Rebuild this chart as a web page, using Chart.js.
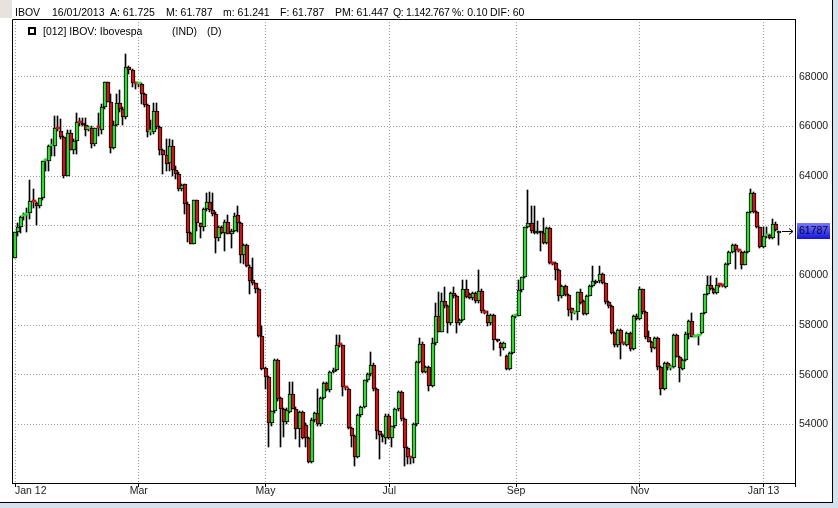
<!DOCTYPE html>
<html>
<head>
<meta charset="utf-8">
<script src="https://cdn.jsdelivr.net/npm/chart.js@4.4.1/dist/chart.umd.min.js"></script>
<style>
  html, body { margin: 0; padding: 0; }
  body { width: 838px; height: 508px; background: #d5e1ed; position: relative; overflow: hidden;
         font-family: "Liberation Sans", Arial, sans-serif; }
  #frame { position: absolute; left: 0; top: 0; width: 832px; height: 502px; background: #fff;
           border-right: 1px solid #000; border-bottom: 1px solid #000; }
  #corner { position: absolute; left: 0; top: 0; width: 12px; height: 18px; background: #e6e2de; }
  canvas { position: absolute; left: 0; top: 0; }
  .t { position: absolute; font-size: 10.5px; line-height: 12px; white-space: pre; color: #000; }
  #box { position: absolute; left: 28px; top: 27px; width: 8px; height: 8px; box-sizing: border-box;
         border: 2px solid #000; background: #fff; }
</style>
</head>
<body>
<div id="frame"></div>
<div id="corner"></div>
<canvas id="chart" width="838" height="508"></canvas>

<div class="t" style="left:15px;top:6px">IBOV</div>
<div class="t" style="left:52px;top:6px">16/01/2013</div>
<div class="t" style="left:110px;top:6px">A: 61.725</div>
<div class="t" style="left:166px;top:6px">M: 61.787</div>
<div class="t" style="left:223px;top:6px">m: 61.241</div>
<div class="t" style="left:280px;top:6px">F: 61.787</div>
<div class="t" style="left:335px;top:6px">PM: 61.447</div>
<div class="t" style="left:393px;top:6px;letter-spacing:-0.35px">Q: 1.142.767</div>
<div class="t" style="left:452px;top:6px">%: 0.10</div>
<div class="t" style="left:490px;top:6px">DIF: 60</div>

<div id="box"></div>
<div class="t" style="left:43px;top:25px">[012] IBOV: Ibovespa</div>
<div class="t" style="left:172px;top:25px">(IND)</div>
<div class="t" style="left:207px;top:25px">(D)</div>

<script>
// daily candles
const opens = [
  60690, 61730, 61960, 62400, 62420, 62500, 62990, 62930, 62780, 63100,
  64600, 64590, 65220, 65220, 65930, 65830, 65560, 64010, 65720, 65070,
  65400, 66170, 66150, 66070, 65900, 65930, 65290, 65990, 65850, 66790, 67800,
  66970, 65130, 66070, 66930, 66700, 66400, 68400, 68270, 67730, 67700,
  67730, 67300, 66860, 65780, 65780, 66630, 65980, 65040, 64840, 64510, 65210, 64260,
  64100, 63500, 63670, 62890, 61710, 61280, 63030, 62090, 61930, 62690,
  62960, 62620, 62490, 61520, 61950, 61720, 62150, 61680, 61790, 62420,
  62110, 60830, 61220, 60340, 59830, 59690, 59450, 57570, 56270, 55910,
  54050, 54520, 56600, 55040, 54600, 54100, 54500, 55220, 54630, 53810,
  54500, 53990, 53450, 52470, 54190, 54460, 54010, 55060, 55670, 55380,
  56120, 56190, 57210, 57180, 55500, 55420, 53840, 53520, 52700, 54380,
  54710, 55790, 56030, 56390, 55410, 53730, 53570, 53440, 54340, 53440,
  53930, 54600, 55320, 54200, 53040, 52670, 52650, 54010, 56520, 57240,
  56120, 56310, 55540, 57260, 58380, 57730, 58950, 58750, 58080, 59290,
  59160, 58080, 58190, 59450, 59260, 59090, 59300, 58950, 59360, 58550,
  58420, 58080, 58420, 57410, 57280, 57080, 56770, 56230, 56870, 58350,
  58380, 59420, 59930, 61930, 62110, 61770, 61700, 61760, 61700, 61300,
  61910, 60500, 60500, 60230, 59160, 59560, 59220, 58690, 58480, 58510,
  59320, 58950, 58460, 59180, 59580, 59760, 59760, 60070, 59690, 58910,
  58750, 57680, 57180, 57800, 57270, 57200, 57670, 57040, 58380, 58230,
  59440, 58510, 57510, 57330, 57090, 57470, 56300, 55410, 56460, 56260,
  56300, 57600, 56730, 56220, 56590, 57650, 58180, 57530, 57560, 57670,
  58470, 59240, 59610, 59440, 59300, 59610, 59600, 59550, 60460, 60950,
  61220, 61020, 60950, 60420, 60950, 62540, 63300, 62540, 61930, 61130,
  61580, 61630, 61490, 62070, 61725
];
const highs = [
  61750, 62130, 62400, 62500, 62710, 63840, 63500, 62950, 63120, 64620,
  64700, 65240, 65490, 66430, 66430, 66290, 65600, 65850, 65850, 65490,
  66560, 66360, 66360, 66360, 66000, 66000, 65950, 66560, 66900, 67800, 67810,
  67300, 66200, 67300, 67460, 66800, 68910, 68450, 68300, 67800, 67750,
  67750, 67350, 66900, 66250, 66930, 66930, 66000, 65100, 65500, 65500, 65450, 64400,
  64150, 63700, 63700, 62950, 61750, 63050, 63050, 62100, 62700, 63300,
  63350, 63300, 62550, 62000, 62000, 62250, 62450, 61850, 62500, 62790,
  62150, 61250, 61250, 60400, 60720, 59700, 59500, 57950, 56300, 55950,
  54530, 56650, 56650, 55100, 54650, 54650, 55700, 55700, 54700, 54550,
  54550, 54050, 53500, 54250, 54500, 55420, 55100, 55700, 55700, 56150,
  56250, 57600, 57600, 57200, 55550, 55450, 53900, 53550, 54400, 54750,
  55800, 56050, 56930, 56450, 55450, 53750, 53600, 54400, 54400, 53950,
  54650, 55350, 55350, 54250, 53100, 52700, 54050, 56550, 57470, 57300,
  56350, 56350, 57470, 58870, 59320, 59270, 59540, 58800, 59350, 59540,
  59200, 58250, 59820, 59820, 59300, 59350, 59350, 60230, 59450, 58600,
  58550, 58450, 58450, 57450, 57300, 57300, 56800, 56900, 58400, 58400,
  59830, 59950, 61950, 63450, 62780, 62780, 62200, 61800, 62330, 61950,
  61950, 60550, 60550, 60250, 59600, 59600, 59250, 58700, 58550, 59350,
  59450, 59000, 59200, 59600, 60390, 59800, 60390, 60100, 59700, 58950,
  58800, 57700, 57850, 57850, 57300, 57700, 57700, 58400, 58450, 59540,
  59450, 58550, 57760, 57350, 57500, 57500, 56350, 56500, 56500, 56400,
  57650, 57650, 56750, 56650, 57700, 58200, 58500, 57600, 57600, 58500,
  59250, 59960, 59960, 59500, 59900, 59650, 59620, 60500, 61000, 61250,
  61250, 61050, 61000, 61000, 62550, 63460, 63350, 62600, 61950, 61930,
  61960, 61650, 62270, 62170, 61787
];
const lows = [
  60690, 61600, 61700, 62250, 61730, 62270, 62700, 62030, 62700, 63050,
  64210, 64210, 64820, 64820, 65800, 65500, 63920, 64010, 65070, 64890,
  64890, 66000, 66000, 65620, 65800, 65120, 65200, 65620, 65700, 66700, 66970,
  64950, 65100, 66000, 66600, 66070, 66300, 68100, 67570, 67500, 67600,
  66900, 66800, 65580, 65650, 65700, 65900, 64840, 64100, 64200, 64200, 64000, 63900,
  63400, 63400, 62490, 61350, 61280, 61280, 61800, 61520, 61800, 62600,
  62550, 62400, 60900, 61400, 61650, 61000, 61650, 61100, 61750, 61750,
  60500, 60450, 60340, 59240, 59600, 59300, 57500, 56200, 55430, 53090,
  53920, 54450, 54950, 53100, 53500, 54000, 54450, 54600, 53400, 53100,
  53400, 53100, 52450, 52450, 54100, 53950, 53950, 55000, 55350, 55300,
  56050, 56150, 57100, 55130, 55400, 53800, 53100, 52300, 52650, 54300,
  54650, 55700, 55950, 55350, 53400, 52600, 53300, 53200, 53400, 53100,
  53850, 54550, 54150, 52300, 52400, 52400, 52450, 53950, 56450, 56050,
  56050, 55330, 55500, 57200, 57700, 57700, 58700, 57680, 58000, 59100,
  57680, 58000, 58150, 59100, 59050, 59000, 58900, 58900, 58500, 58450,
  57950, 58000, 57000, 57300, 56740, 57000, 56200, 56200, 56850, 58300,
  58350, 59350, 59900, 61900, 61700, 61650, 61650, 61000, 61250, 61250,
  60450, 60400, 59830, 58950, 59100, 59150, 58350, 58220, 58450, 58220,
  58850, 58400, 58400, 59150, 59550, 59650, 59700, 59650, 58850, 58700,
  57650, 57100, 57100, 56620, 57200, 57150, 56950, 57000, 58200, 58200,
  58450, 57450, 57300, 56900, 57050, 56190, 55180, 55380, 56200, 56200,
  56250, 56700, 55720, 56200, 56550, 57450, 57500, 57500, 57200, 57650,
  58450, 59200, 59400, 59250, 59250, 59550, 59550, 59500, 60400, 60900,
  60240, 60950, 60270, 60400, 60900, 62500, 62500, 61900, 61100, 61100,
  61500, 61450, 61450, 61800, 61241
];
const closes = [
  61730, 61930, 62340, 62420, 62440, 62980, 62970, 62780, 63100, 64590,
  64620, 65220, 65250, 65930, 65900, 65560, 64010, 65720, 65070, 65400,
  66160, 66150, 66070, 65850, 65930, 65290, 65930, 65940, 66790, 67800, 66970,
  65130, 66070, 66930, 66700, 66400, 68400, 68270, 67770, 67710, 67720,
  67300, 66860, 65780, 65820, 66630, 65980, 65040, 64840, 64480, 65210, 64260, 64100,
  63500, 63630, 62890, 61710, 61280, 63030, 62090, 61930, 62690, 62960,
  62620, 62490, 61520, 61950, 61720, 62150, 61680, 61790, 62400, 62110,
  60830, 61220, 60360, 59790, 59690, 59450, 57570, 56230, 55910, 54050,
  54520, 56600, 55030, 54600, 54100, 54590, 55220, 54630, 53810, 54500,
  53450, 53450, 52470, 54190, 54460, 54010, 55060, 55670, 55400, 56120,
  56190, 57200, 57180, 55500, 55470, 53840, 53520, 52700, 54380, 54710,
  55790, 56030, 56390, 55410, 53730, 53570, 53500, 54340, 53440, 53930,
  54600, 55320, 54200, 53040, 52670, 52650, 54010, 56520, 57240, 56120,
  56310, 55540, 57260, 58360, 57730, 58950, 58750, 58080, 59290, 59160,
  58080, 58190, 59450, 59130, 59090, 59300, 58950, 59360, 58550, 58500,
  58080, 58420, 57410, 57350, 57080, 57280, 56230, 56870, 58350, 58380,
  59420, 59930, 61930, 62110, 61770, 61700, 61760, 61700, 61300, 61910,
  60500, 60470, 60230, 59160, 59560, 59220, 58620, 58480, 58510, 59320,
  58890, 58460, 59180, 59580, 59760, 59700, 60070, 59690, 58910, 58750,
  57680, 57180, 57800, 57260, 57240, 57670, 57040, 58380, 58230, 59440,
  58510, 57510, 57330, 57090, 57470, 56300, 55410, 56460, 56260, 56300,
  57600, 56730, 56260, 56590, 57650, 58180, 57530, 57560, 57580, 58470,
  59240, 59610, 59440, 59300, 59610, 59600, 59580, 60460, 60950, 61220,
  61020, 61000, 60420, 60950, 62540, 63300, 62540, 61960, 61130, 61580,
  61630, 61490, 62070, 61830, 61787
];

// x axis: candle index of each month label
const monthTickIdx = [0, 40, 81, 121, 162, 202, 242];
const monthLabels = ['Jan 12', 'Mar', 'May', 'Jul', 'Sep', 'Nov', 'Jan 13'];
const priceTicks = [54000, 56000, 58000, 60000, 62000, 64000, 66000, 68000];

const upColor = '#33d633';
const downColor = '#c41818';
const gridColor = '#9a9a9a';
const labelFont = { family: '"Liberation Sans", Arial, sans-serif', size: 10.5 };

const lastClose = closes[closes.length - 1];

const bodies = closes.map((c, i) => ({ x: i, y: [opens[i], c] }));
const wicks = closes.map((c, i) => ({ x: i, y: [lows[i], highs[i]] }));

// snap candles to whole pixels so the outlines stay crisp
const snapPlugin = {
    id: 'snap',
    beforeDatasetsDraw(chart) {
        const wickEls = chart.getDatasetMeta(0).data;
        const bodyEls = chart.getDatasetMeta(1).data;
        bodyEls.forEach((el, i) => {
            const cx = Math.round(el.x);
            el.x = cx;
            el.y = Math.round(el.y);
            el.base = Math.round(el.base);
            const w = wickEls[i];
            w.x = cx - 0.5;
            w.y = Math.round(w.y);
            w.base = Math.round(w.base);
        });
    }
};

// frame on the left/top, plus the last price tag on the right axis
const framePlugin = {
    id: 'frame',
    afterDraw(chart) {
        const { ctx, chartArea: a, scales } = chart;
        ctx.save();
        ctx.strokeStyle = '#000';
        ctx.lineWidth = 1;
        ctx.beginPath();
        ctx.moveTo(a.left + 0.5, a.bottom);
        ctx.lineTo(a.left + 0.5, a.top + 0.5);
        ctx.lineTo(a.right, a.top + 0.5);
        ctx.stroke();

        const y = Math.round(scales.y.getPixelForValue(lastClose));
        const g = ctx.createLinearGradient(0, y - 8, 0, y + 8);
        g.addColorStop(0, '#7a7aff');
        g.addColorStop(1, '#1414dc');
        ctx.fillStyle = g;
        ctx.fillRect(a.right + 2, y - 8, 33, 16);
        ctx.fillStyle = '#00002a';
        ctx.font = '10.5px "Liberation Sans", Arial, sans-serif';
        ctx.textBaseline = 'middle';
        ctx.fillText(String(lastClose), a.right + 4, y + 0.5);

        ctx.beginPath();
        ctx.moveTo(a.right - 13, y + 0.5);
        ctx.lineTo(a.right - 2, y + 0.5);
        ctx.moveTo(a.right - 6, y - 2.5);
        ctx.lineTo(a.right - 2, y + 0.5);
        ctx.lineTo(a.right - 6, y + 3.5);
        ctx.stroke();
        ctx.restore();
    }
};

new Chart(document.getElementById('chart'), {
    type: 'bar',
    data: {
        datasets: [{
            label: 'wick',
            data: wicks,
            backgroundColor: '#000',
            barThickness: 1,
            grouped: false,
            order: 2
        }, {
            label: 'body',
            data: bodies,
            backgroundColor: ctx => closes[ctx.dataIndex] >= opens[ctx.dataIndex] ? upColor : downColor,
            borderColor: '#000',
            borderWidth: ctx => Math.abs(closes[ctx.dataIndex] - opens[ctx.dataIndex]) < 60 ? 0 : 1,
            borderSkipped: false,
            barThickness: 4,
            minBarLength: 2,
            grouped: false,
            order: 1
        }]
    },
    options: {
        responsive: false,
        animation: false,
        devicePixelRatio: 1,
        layout: { padding: { left: 12, top: 19, right: 0, bottom: 0 } },
        plugins: {
            legend: { display: false },
            tooltip: { enabled: false }
        },
        scales: {
            x: {
                type: 'linear',
                min: -0.97,
                max: 252.18,
                offset: false,
                afterFit: axis => { axis.height = 25; },
                afterBuildTicks: axis => {
                    axis.ticks = monthTickIdx.map(v => ({ value: v })).concat([{ value: axis.max }]);
                },
                grid: {
                    offset: false,
                    color: gridColor,
                    tickColor: '#000',
                    tickLength: 4
                },
                border: { color: '#000', dash: [1, 2] },
                ticks: {
                    align: 'inner',
                    autoSkip: false,
                    maxRotation: 0,
                    padding: -2,
                    color: '#1a1a1a',
                    font: labelFont,
                    callback: (v, i) => i < monthLabels.length ? monthLabels[i] : ''
                }
            },
            y: {
                position: 'right',
                min: 51635,
                max: 70329,
                afterFit: axis => { axis.width = 43; },
                afterBuildTicks: axis => {
                    axis.ticks = priceTicks.map(v => ({ value: v }));
                },
                grid: {
                    color: gridColor,
                    drawTicks: false
                },
                border: { color: '#000', dash: [1, 2] },
                ticks: {
                    padding: 4,
                    color: '#1a1a1a',
                    font: labelFont,
                    callback: v => Math.abs(v - lastClose) < 800 ? '' : String(v)
                }
            }
        }
    },
    plugins: [snapPlugin, framePlugin]
});
</script>
</body>
</html>
